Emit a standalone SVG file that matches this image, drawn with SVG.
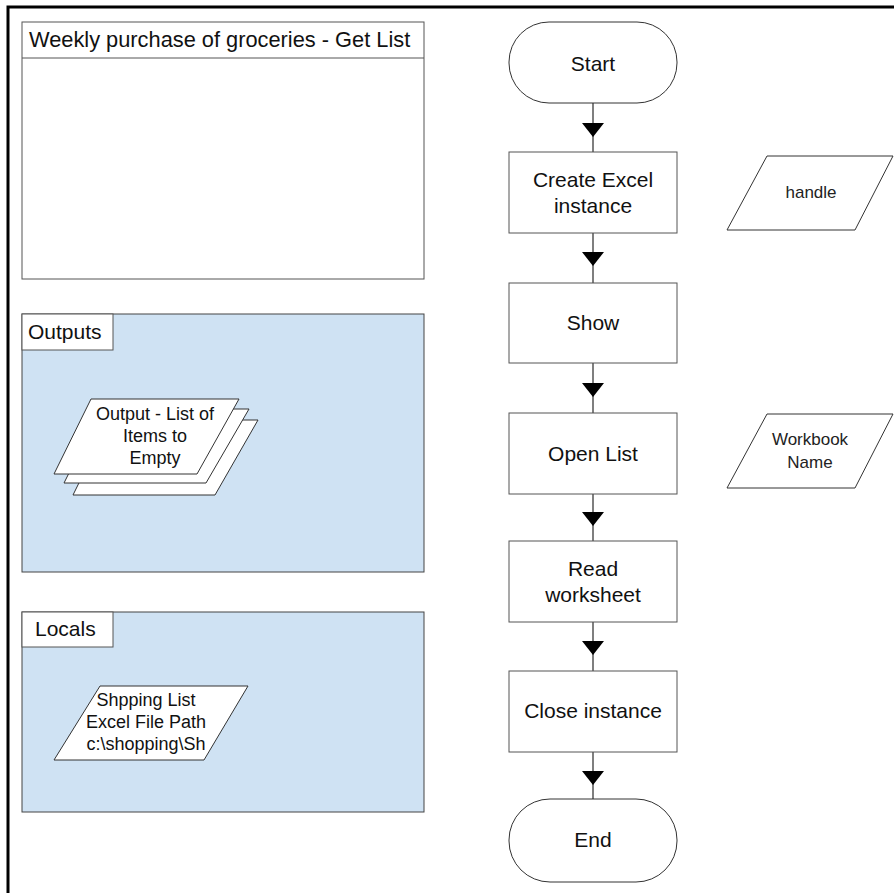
<svg xmlns="http://www.w3.org/2000/svg" width="894" height="893" viewBox="0 0 894 893">
<style>
text{font-family:"Liberation Sans",Arial,sans-serif;fill:#111;text-anchor:middle}
.box{fill:#fff;stroke:#555;stroke-width:1}
.panel{fill:#cfe2f3;stroke:#444;stroke-width:1}
.shape{fill:#fff;stroke:#333;stroke-width:1}
.conn{stroke:#555;stroke-width:1.5;fill:none}
.lbl{text-anchor:start}
.fc{font-size:21px}
.sm{font-size:18px}
.io{font-size:17px;fill:#222}
</style>
<defs>
<path id="ah" d="M-11,0 L11,0 L0,14 Z" fill="#000"/>
</defs>
<rect width="894" height="893" fill="#fff"/>
<path d="M8,893 V7 H894" fill="none" stroke="#000" stroke-width="3"/>

<g id="title-panel">
<rect class="box" x="22" y="22" width="402" height="257"/>
<line x1="22" y1="58" x2="424" y2="58" stroke="#555"/>
<text class="lbl" x="29" y="47" font-size="21.8">Weekly purchase of groceries - Get List</text>
</g>

<g id="outputs-panel">
<rect class="panel" x="22" y="314" width="402" height="258"/>
<rect class="box" x="22" y="314" width="91" height="36"/>
<text class="lbl" x="28" y="339" font-size="21">Outputs</text>
</g>

<g id="output-list">
<polygon class="shape" points="110,420 258,420 215,495 73,495"/>
<polygon class="shape" points="101,409 249,409 206,483 64,483"/>
<polygon class="shape" points="91,399 239,399 197,474 54,474"/>
<text class="sm" x="155" y="420">Output - List of</text>
<text class="sm" x="155" y="442">Items to</text>
<text class="sm" x="155" y="464">Empty</text>
</g>

<g id="locals-panel">
<rect class="panel" x="22" y="612" width="402" height="200"/>
<rect class="box" x="22" y="612" width="91" height="35"/>
<text class="lbl" x="35" y="636" font-size="21">Locals</text>
</g>

<g id="local-path">
<polygon class="shape" points="100,686 248,686 204,760 54,760"/>
<text class="sm" x="146" y="706">Shpping List</text>
<text class="sm" x="146" y="728">Excel File Path</text>
<text class="sm" x="146" y="750">c:\shopping\Sh</text>
</g>

<g id="connectors">
<line class="conn" x1="593" y1="103" x2="593" y2="152"/>
<use href="#ah" x="593" y="123"/>
<line class="conn" x1="593" y1="233" x2="593" y2="283"/>
<use href="#ah" x="593" y="252"/>
<line class="conn" x1="593" y1="363" x2="593" y2="413"/>
<use href="#ah" x="593" y="383"/>
<line class="conn" x1="593" y1="494" x2="593" y2="541"/>
<use href="#ah" x="593" y="512"/>
<line class="conn" x1="593" y1="622" x2="593" y2="671"/>
<use href="#ah" x="593" y="641"/>
<line class="conn" x1="593" y1="752" x2="593" y2="799"/>
<use href="#ah" x="593" y="771"/>
</g>

<g id="start">
<rect class="shape" x="509" y="22" width="168" height="81" rx="40" ry="40"/>
<text class="fc" x="593" y="71">Start</text>
</g>
<g id="create-excel">
<rect class="box" x="509" y="152" width="168" height="81"/>
<text class="fc" x="593" y="187">Create Excel</text>
<text class="fc" x="593" y="213">instance</text>
</g>
<g id="show">
<rect class="box" x="509" y="283" width="168" height="80"/>
<text class="fc" x="593" y="330">Show</text>
</g>
<g id="open-list">
<rect class="box" x="509" y="413" width="168" height="81"/>
<text class="fc" x="593" y="461">Open List</text>
</g>
<g id="read-worksheet">
<rect class="box" x="509" y="541" width="168" height="81"/>
<text class="fc" x="593" y="576">Read</text>
<text class="fc" x="593" y="602">worksheet</text>
</g>
<g id="close-instance">
<rect class="box" x="509" y="671" width="168" height="81"/>
<text class="fc" x="593" y="718">Close instance</text>
</g>
<g id="end">
<rect class="shape" x="509" y="799" width="168" height="83" rx="41" ry="41"/>
<text class="fc" x="593" y="847">End</text>
</g>

<g id="handle">
<polygon class="shape" points="767,156 893,156 855,230 727,230"/>
<text class="io" x="811" y="198">handle</text>
</g>
<g id="workbook-name">
<polygon class="shape" points="767,414 893,414 855,488 727,488"/>
<text class="io" x="810" y="445">Workbook</text>
<text class="io" x="810" y="468">Name</text>
</g>
</svg>
